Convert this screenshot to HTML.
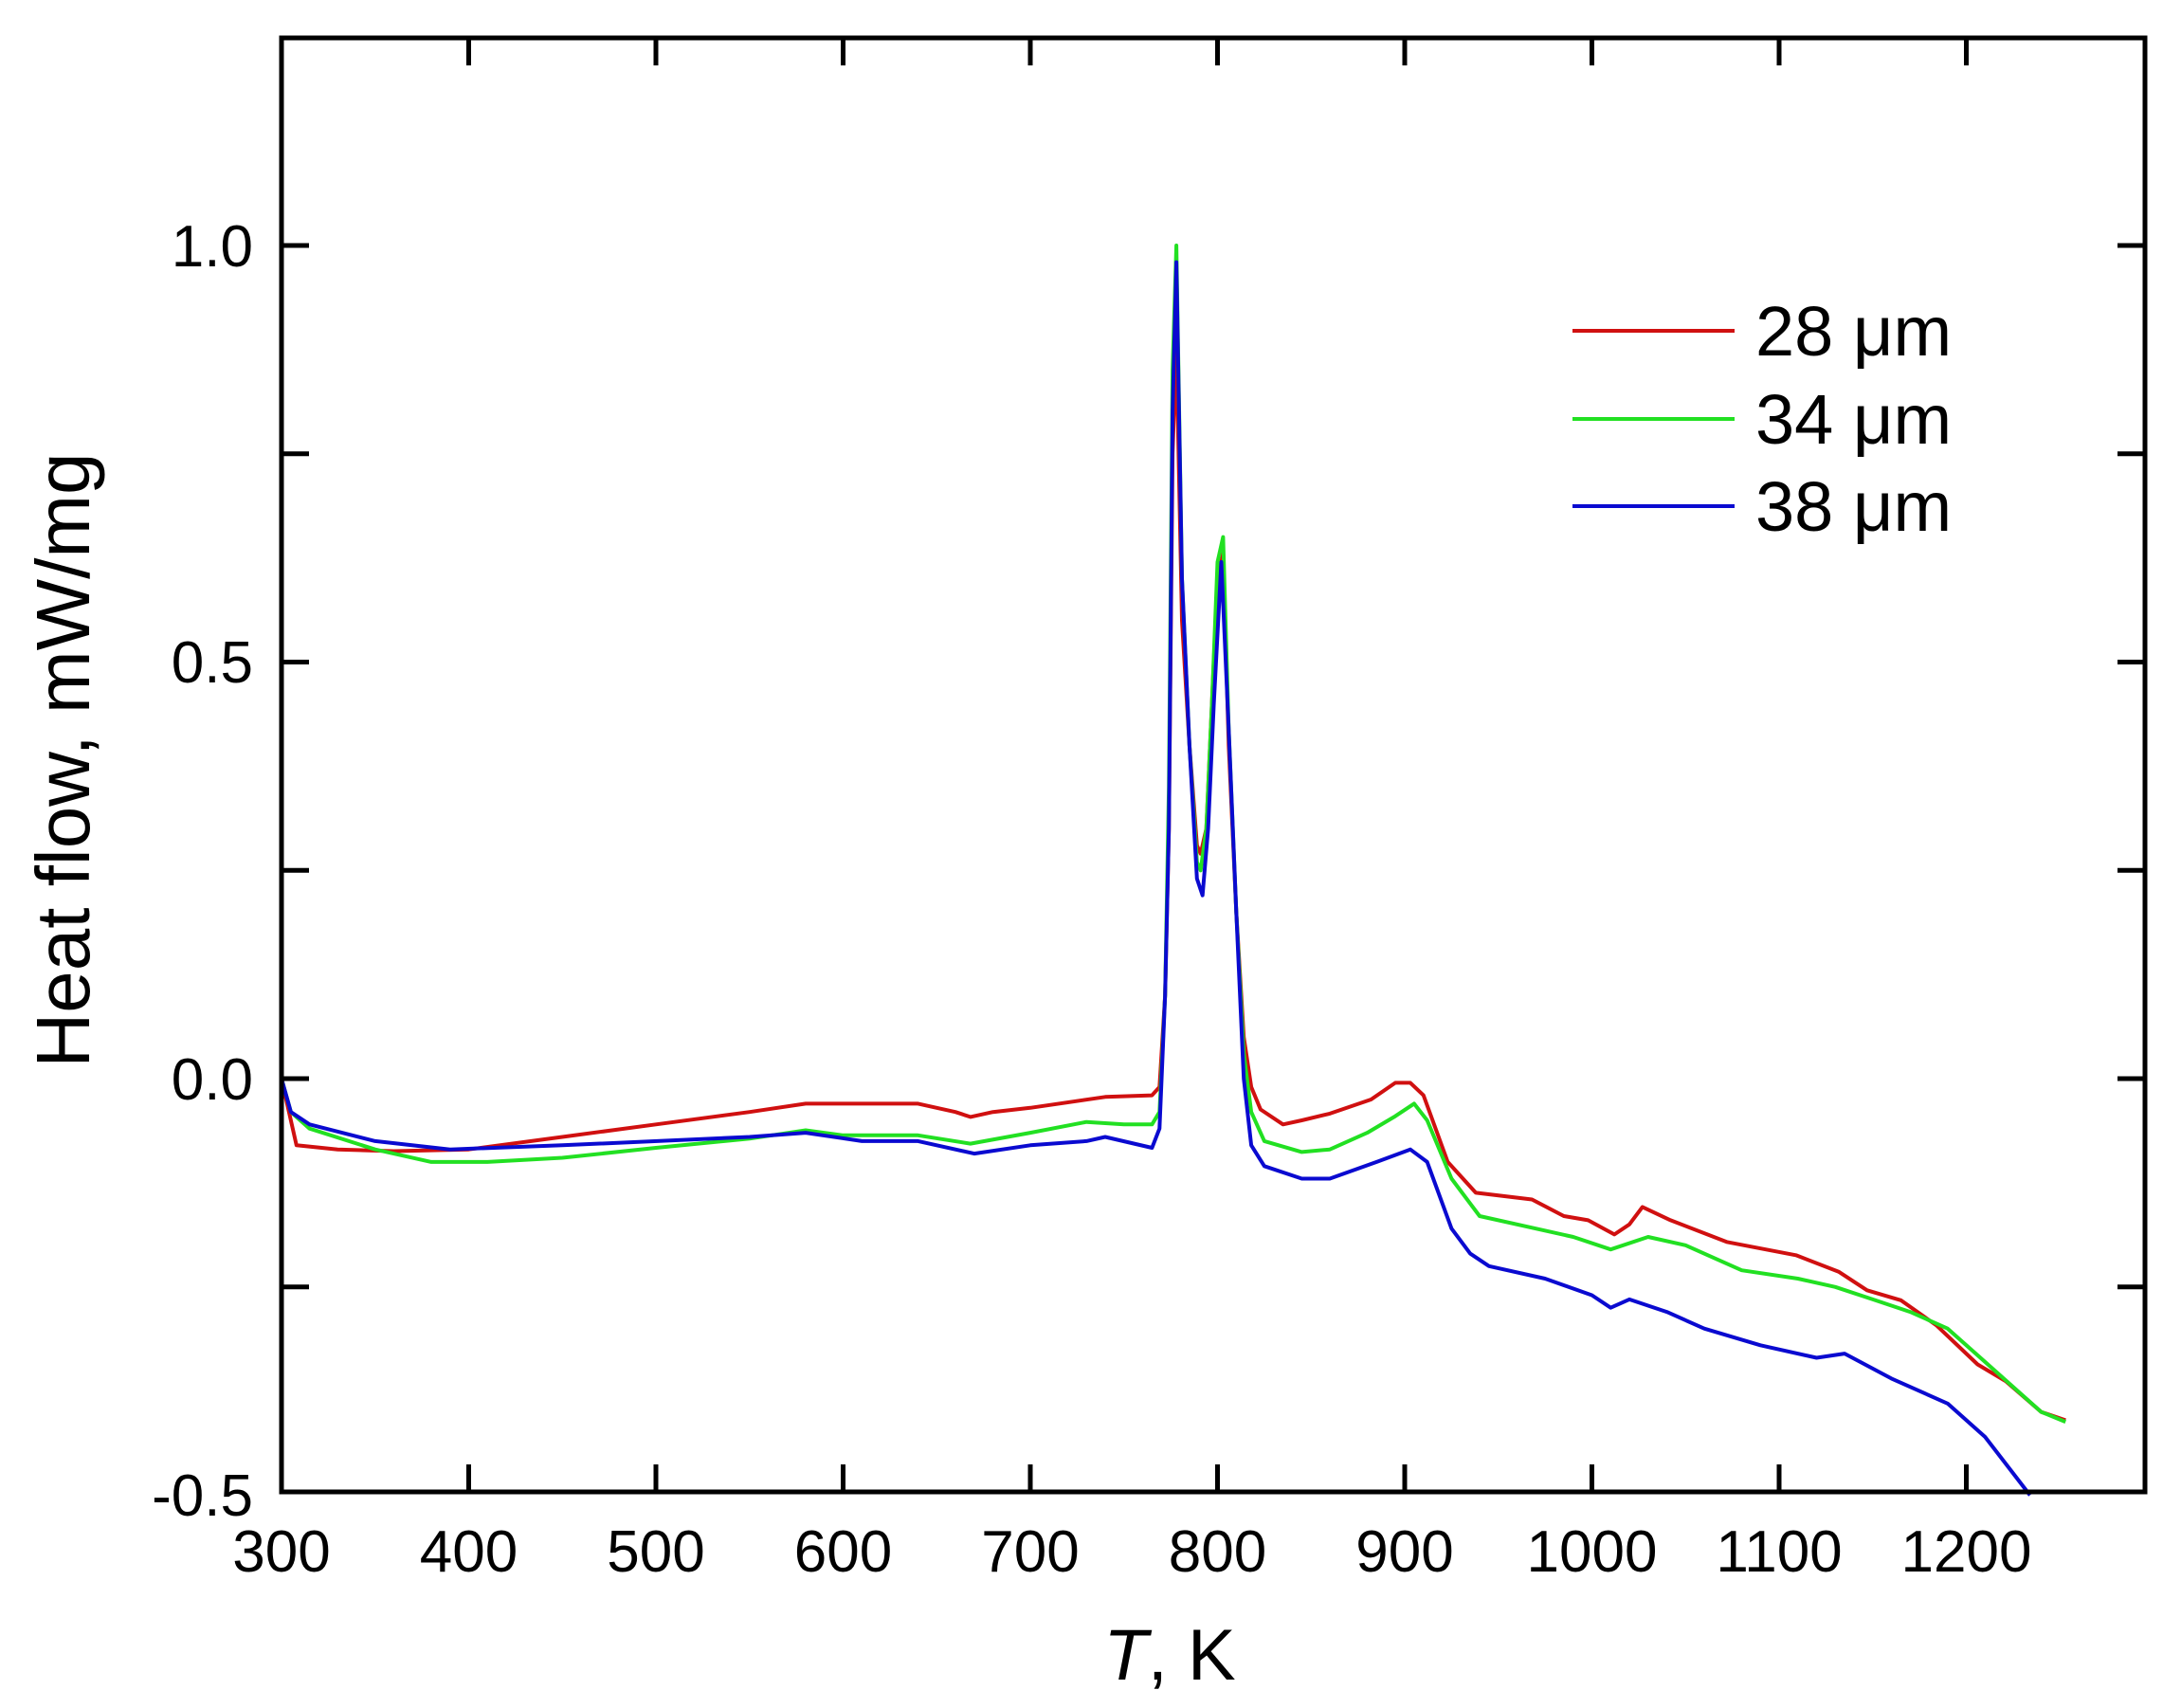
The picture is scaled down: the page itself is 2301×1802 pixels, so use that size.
<!DOCTYPE html>
<html><head><meta charset="utf-8"><style>
html,body{margin:0;padding:0;background:#fff;}
svg{display:block;}
text{font-family:"Liberation Sans",Arial,sans-serif;fill:#000;}
</style></head><body>
<svg id="s" width="2301" height="1802" xmlns="http://www.w3.org/2000/svg">
<rect x="0" y="0" width="2301" height="1802" fill="#fff"/>
<g id="plot"></g>
<rect x="297" y="40" width="1966" height="1534" fill="none" stroke="#000" stroke-width="5"/>
<g id="ticks" stroke="#000" stroke-width="5"></g>
<g font-size="62" text-anchor="end">
<text x="267" y="281">1.0</text>
<text x="267" y="720">0.5</text>
<text x="267" y="1160">0.0</text>
<text x="267" y="1599">-0.5</text>
</g>
<g id="xl" font-size="62" text-anchor="middle"></g>
<text x="1234" y="1772" font-size="76" text-anchor="middle"><tspan font-style="italic">T</tspan>, K</text>
<text transform="translate(94,802) rotate(-90)" font-size="80" text-anchor="middle">Heat flow, mW/mg</text>
<g stroke-width="4">
<line x1="1659" y1="349" x2="1830" y2="349" stroke="#d01010"/>
<line x1="1659" y1="442" x2="1830" y2="442" stroke="#22e022"/>
<line x1="1659" y1="534" x2="1830" y2="534" stroke="#0a0ad0"/>
</g>
<g font-size="74">
<text x="1852" y="375">28 μm</text>
<text x="1852" y="468">34 μm</text>
<text x="1852" y="560">38 μm</text>
</g>
</svg>
<script>
function X(t){return 297+(t-300)*1.975;}
function Y(v){return 1138-v*879;}
var ns="http://www.w3.org/2000/svg";
var tk=document.getElementById('ticks'),xl=document.getElementById('xl');
function ln(g,a,b,c,d){var l=document.createElementNS(ns,'line');l.setAttribute('x1',a);l.setAttribute('y1',b);l.setAttribute('x2',c);l.setAttribute('y2',d);g.appendChild(l);}
for(var t=400;t<=1200;t+=100){var x=X(t);ln(tk,x,1574,x,1545);ln(tk,x,40,x,69);}
for(var t=300;t<=1200;t+=100){var tx=document.createElementNS(ns,'text');tx.setAttribute('x',X(t));tx.setAttribute('y',1658);tx.textContent=t;xl.appendChild(tx);}
for(var v=-0.25;v<=1.0001;v+=0.25){var y=Y(v);ln(tk,297,y,326,y);ln(tk,2263,y,2234,y);}
var red=[[300,0],[303,-0.03],[308,-0.08],[330,-0.085],[360,-0.087],[400,-0.085],[450,-0.07],[500,-0.055],[550,-0.04],[580,-0.03],[640,-0.03],[660,-0.04],[668,-0.046],[680,-0.04],[700,-0.035],[740,-0.022],[765,-0.02],[769,-0.01],[772,0.1],[774,0.3],[776,0.75],[778,0.88],[781,0.55],[785,0.4],[789,0.28],[791,0.27],[794,0.3],[797,0.45],[800,0.6],[803,0.63],[806,0.4],[810,0.2],[814,0.05],[818,-0.01],[823,-0.037],[835,-0.055],[845,-0.05],[860,-0.042],[882,-0.025],[895,-0.005],[903,-0.005],[910,-0.02],[923,-0.1],[938,-0.137],[968,-0.145],[985,-0.165],[998,-0.17],[1012,-0.187],[1020,-0.175],[1027,-0.154],[1042,-0.17],[1072,-0.196],[1109,-0.212],[1132,-0.232],[1147,-0.254],[1165,-0.266],[1184,-0.296],[1206,-0.343],[1221,-0.363],[1240,-0.4],[1253,-0.41]];
var green=[[300,0],[305,-0.04],[315,-0.06],[350,-0.085],[380,-0.1],[410,-0.1],[450,-0.095],[500,-0.083],[550,-0.072],[580,-0.062],[600,-0.068],[640,-0.068],[668,-0.078],[700,-0.065],[730,-0.052],[750,-0.055],[765,-0.055],[769,-0.04],[772,0.1],[774,0.35],[776,0.85],[778,1.0],[781,0.6],[785,0.4],[789,0.26],[791,0.25],[794,0.3],[797,0.45],[800,0.62],[803,0.65],[806,0.42],[810,0.2],[814,0.03],[818,-0.04],[825,-0.075],[845,-0.088],[860,-0.085],[880,-0.065],[895,-0.045],[905,-0.03],[912,-0.05],[925,-0.12],[940,-0.165],[970,-0.18],[990,-0.19],[1010,-0.205],[1030,-0.19],[1050,-0.2],[1080,-0.23],[1110,-0.24],[1130,-0.25],[1150,-0.265],[1170,-0.28],[1190,-0.3],[1210,-0.34],[1225,-0.37],[1240,-0.4],[1253,-0.412]];
var blue=[[300,0],[305,-0.04],[315,-0.055],[350,-0.075],[390,-0.085],[450,-0.08],[550,-0.07],[580,-0.065],[610,-0.075],[640,-0.075],[670,-0.09],[700,-0.08],[730,-0.075],[740,-0.07],[765,-0.083],[769,-0.06],[772,0.1],[774,0.3],[776,0.8],[778,0.98],[781,0.6],[785,0.4],[789,0.24],[792,0.22],[795,0.3],[798,0.45],[802,0.62],[806,0.42],[810,0.2],[814,0.0],[818,-0.08],[825,-0.105],[845,-0.12],[860,-0.12],[885,-0.1],[903,-0.085],[912,-0.1],[925,-0.18],[935,-0.21],[945,-0.225],[975,-0.24],[1000,-0.26],[1010,-0.275],[1020,-0.265],[1040,-0.28],[1060,-0.3],[1090,-0.32],[1120,-0.335],[1135,-0.33],[1160,-0.36],[1190,-0.39],[1210,-0.43],[1234,-0.5]];
var pl=document.getElementById('plot');
[[red,'#d01010'],[green,'#22e022'],[blue,'#0a0ad0']].forEach(function(s){
var p=document.createElementNS(ns,'polyline');
p.setAttribute('points',s[0].map(function(d){return X(d[0]).toFixed(1)+','+Y(d[1]).toFixed(1);}).join(' '));
p.setAttribute('fill','none');p.setAttribute('stroke',s[1]);p.setAttribute('stroke-width','4');p.setAttribute('stroke-linejoin','round');
pl.appendChild(p);});
</script>
</body></html>
